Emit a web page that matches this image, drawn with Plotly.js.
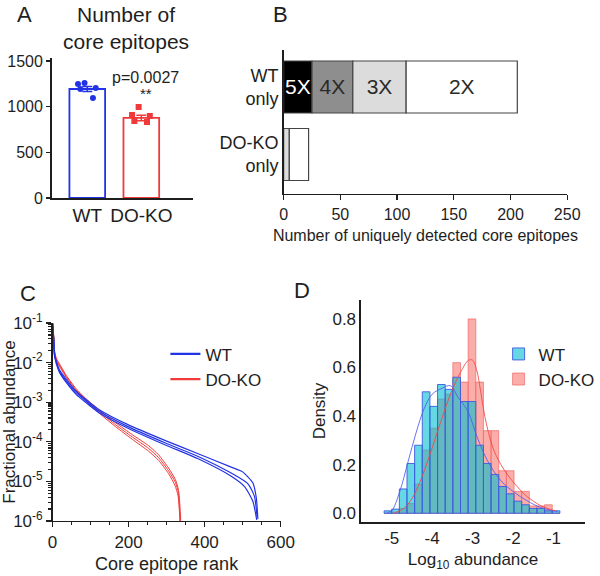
<!DOCTYPE html>
<html><head><meta charset="utf-8">
<script src="https://cdn.plot.ly/plotly-3.0.1.min.js"></script>
<style>html,body{margin:0;padding:0;background:#fff}#chart{width:600px;height:576px}</style>
</head><body><div id="chart"></div>
<script>
// ---------- Panel A: number of core epitopes ----------
const groupsA = ['WT', 'DO-KO'];
const groupPosA = [0, 1];
const meanA = [1193, 876];
const semA = [28, 30];
const pointsWT = [1259, 1248, 1204, 1193, 1095];
const pointsKO = [996, 909, 898, 843, 832];

// ---------- Panel B: uniquely detected core epitopes ----------
const groupsB = ['WT<br>only', 'DO-KO<br>only'];
const groupPosB = [1, 0];
const segLabels = ['5X', '4X', '3X', '2X'];
const segWT = [25, 36, 47, 98];
const segKO = [0, 0, 5, 17];

// ---------- Panel C: rank abundance curves ----------
const wtRank1 = [0, 3, 5, 10, 18, 36, 62, 88, 123, 197, 297, 383, 470, 500, 527, 536, 540];
const wtAbund1 = [0.1, 0.0417, 0.0174, 0.0107, 0.00661, 0.0038, 0.00191, 0.00117, 0.000646, 0.000275, 0.000107, 0.0000501, 0.0000229, 0.0000174, 0.00000912, 0.0000038, 0.00000112];
const wtRank2 = [0, 3, 5, 10, 18, 36, 62, 88, 123, 197, 297, 383, 470, 514, 531, 538];
const wtAbund2 = [0.1, 0.0389, 0.0162, 0.0100, 0.00617, 0.00347, 0.00174, 0.00107, 0.000589, 0.000245, 0.0000933, 0.0000427, 0.0000162, 0.0000087, 0.0000042, 0.00000126];
const wtRank3 = [0, 3, 5, 10, 18, 36, 62, 88, 123, 197, 297, 383, 470, 505, 527, 537];
const wtAbund3 = [0.1, 0.0363, 0.0151, 0.00933, 0.00575, 0.00316, 0.00158, 0.000977, 0.000537, 0.000224, 0.0000832, 0.0000372, 0.0000135, 0.0000074, 0.0000031, 0.00000107];
const koRank1 = [0, 3, 5, 10, 23, 36, 62, 88, 123, 166, 210, 253, 279, 305, 323, 331, 335, 337];
const koAbund1 = [0.1, 0.0501, 0.0209, 0.0129, 0.00776, 0.00479, 0.00219, 0.00123, 0.000631, 0.000302, 0.000151, 0.0000794, 0.0000468, 0.0000219, 0.0000112, 0.0000063, 0.0000025, 0.000001];
const koRank2 = [0, 3, 5, 10, 23, 36, 62, 88, 123, 166, 210, 253, 279, 305, 323, 331, 334, 336];
const koAbund2 = [0.1, 0.0468, 0.0195, 0.0120, 0.00724, 0.00447, 0.00204, 0.00115, 0.000575, 0.000269, 0.000132, 0.0000676, 0.0000398, 0.0000186, 0.0000095, 0.0000052, 0.000002, 0.000001];
const koRank3 = [0, 3, 5, 10, 23, 36, 62, 88, 123, 166, 210, 253, 279, 305, 322, 330, 334, 335];
const koAbund3 = [0.1, 0.0437, 0.0182, 0.0112, 0.00676, 0.00417, 0.00191, 0.00107, 0.000525, 0.00024, 0.000115, 0.0000575, 0.0000339, 0.0000158, 0.0000079, 0.0000044, 0.0000016, 0.000001];
const cTickVals = [1e-6, 1e-5, 1e-4, 1e-3, 1e-2, 1e-1];
const cTickText = ['10<sup>-6</sup>', '10<sup>-5</sup>', '10<sup>-4</sup>', '10<sup>-3</sup>', '10<sup>-2</sup>', '10<sup>-1</sup>'];

// ---------- Panel D: histogram of log10 abundance ----------
const binCenters = [-5.095, -4.906, -4.717, -4.528, -4.339, -4.150, -3.961, -3.772, -3.583, -3.394, -3.205, -3.016, -2.827, -2.638, -2.449, -2.260, -2.071, -1.882, -1.693, -1.504, -1.315, -1.126, -0.937];
const densWT = [0.01, 0.017, 0.10, 0.205, 0.28, 0.50, 0.44, 0.53, 0.51, 0.56, 0.46, 0.46, 0.28, 0.205, 0.16, 0.11, 0.08, 0.05, 0.035, 0.02, 0.02, 0.01, 0.01];
const densKO = [0, 0.005, 0.02, 0.04, 0.12, 0.26, 0.35, 0.47, 0.49, 0.62, 0.54, 0.80, 0.54, 0.34, 0.34, 0.175, 0.175, 0.09, 0.09, 0.03, 0.03, 0.035, 0];
const kdeWTx = [-5.1, -5.0, -4.8, -4.6, -4.4, -4.2, -4.0, -3.75, -3.55, -3.37, -3.12, -2.88, -2.63, -2.30, -1.97, -1.65, -1.32, -0.99, -0.9];
const kdeWTy = [0.003, 0.01, 0.09, 0.21, 0.33, 0.43, 0.49, 0.515, 0.525, 0.48, 0.42, 0.31, 0.216, 0.134, 0.086, 0.051, 0.024, 0.01, 0.007];
const kdeKOx = [-4.95, -4.7, -4.5, -4.3, -4.1, -3.9, -3.7, -3.5, -3.3, -3.1, -3.0, -2.9, -2.8, -2.7, -2.5, -2.3, -2.1, -1.9, -1.7, -1.5, -1.3, -1.1, -0.95];
const kdeKOy = [0.0, 0.02, 0.06, 0.13, 0.22, 0.32, 0.42, 0.51, 0.58, 0.63, 0.63, 0.59, 0.50, 0.40, 0.27, 0.20, 0.15, 0.11, 0.075, 0.05, 0.03, 0.017, 0.01];
const dTickVals = [-5, -4, -3, -2, -1];
const dTickText = ['-5', '-4', '-3', '-2', '-1'];

// ---------- styles ----------
const F = 'Liberation Sans, Arial, sans-serif';
const TXT = '#1e1e1e';
const BLUE = '#2233e6';
const RED = '#f03a3a';
const segColors = ['#000000', '#8e8e8e', '#dcdcdc', '#ffffff'];
const segTextColors = ['#ffffff', '#2a2a2a', '#2a2a2a', '#2a2a2a'];

const traces = [];

// Panel A bars + points
[BLUE, RED].forEach((col, i) => {
  traces.push({
    type: 'bar', x: [groupPosA[i]], y: [meanA[i]], width: 0.66,
    marker: {color: 'rgba(255,255,255,0)', line: {color: col, width: 1.8}},
    error_y: {type: 'data', array: [semA[i]], color: col, thickness: 1.5, width: 5},
    xaxis: 'x', yaxis: 'y', showlegend: false, hoverinfo: 'skip'
  });
});
[[pointsWT, BLUE, 'circle'], [pointsKO, RED, 'square']].forEach(([pts, col, sym], i) => {
  traces.push({
    type: 'box', x0: groupPosA[i], y: pts, boxpoints: 'all', jitter: 0.9, pointpos: 0, width: 0.45,
    fillcolor: 'rgba(0,0,0,0)', line: {width: 0, color: 'rgba(0,0,0,0)'},
    marker: {color: col, size: 6, symbol: sym},
    xaxis: 'x', yaxis: 'y', showlegend: false, hoverinfo: 'skip'
  });
});

// Panel B stacked horizontal bars (explicit base); WT carries the segment labels
let baseWT = 0, baseKO = 0;
segLabels.forEach((lab, i) => {
  traces.push({
    type: 'bar', orientation: 'h', y: [groupPosB[0]], x: [segWT[i]], base: [baseWT], width: 0.77,
    marker: {color: segColors[i], line: {color: '#444', width: 1.2}},
    text: [lab], textposition: 'inside', insidetextanchor: 'middle', constraintext: 'none',
    textangle: 0, textfont: {size: 21, color: segTextColors[i], family: F},
    xaxis: 'x2', yaxis: 'y2', showlegend: false, hoverinfo: 'skip'
  });
  if (segKO[i] > 0) {
    traces.push({
      type: 'bar', orientation: 'h', y: [groupPosB[1]], x: [segKO[i]], base: [baseKO], width: 0.77,
      marker: {color: segColors[i], line: {color: '#444', width: 1.2}},
      xaxis: 'x2', yaxis: 'y2', showlegend: false, hoverinfo: 'skip'
    });
  }
  baseWT += segWT[i]; baseKO += segKO[i];
});

// Panel C curves
[[koRank1, koAbund1], [koRank2, koAbund2], [koRank3, koAbund3]].forEach(([r, a]) => {
  traces.push({type: 'scatter', mode: 'lines', x: r, y: a, line: {color: RED, width: 1, shape: 'spline', smoothing: 0.6},
    xaxis: 'x3', yaxis: 'y3', showlegend: false, hoverinfo: 'skip'});
});
[[wtRank1, wtAbund1], [wtRank2, wtAbund2], [wtRank3, wtAbund3]].forEach(([r, a]) => {
  traces.push({type: 'scatter', mode: 'lines', x: r, y: a, line: {color: BLUE, width: 1.2, shape: 'spline', smoothing: 0.6},
    xaxis: 'x3', yaxis: 'y3', showlegend: false, hoverinfo: 'skip'});
});
traces.push({type: 'scatter', mode: 'lines', x: [null], y: [null], name: 'WT', line: {color: BLUE, width: 2.2},
  xaxis: 'x3', yaxis: 'y3', legend: 'legend', legendrank: 1});
traces.push({type: 'scatter', mode: 'lines', x: [null], y: [null], name: 'DO-KO', line: {color: RED, width: 2.2},
  xaxis: 'x3', yaxis: 'y3', legend: 'legend', legendrank: 2});

// Panel D histograms + KDE
traces.push({type: 'bar', x: binCenters, y: densKO, width: 0.189, name: 'DO-KO',
  marker: {color: 'rgba(248,120,112,0.6)', line: {color: 'rgba(240,110,110,0.75)', width: 1}},
  xaxis: 'x4', yaxis: 'y4', legend: 'legend2', legendrank: 2, hoverinfo: 'skip'});
traces.push({type: 'bar', x: binCenters, y: densWT, width: 0.189, name: 'WT',
  marker: {color: 'rgba(0,190,208,0.6)', line: {color: 'rgba(60,90,225,0.9)', width: 1}},
  xaxis: 'x4', yaxis: 'y4', legend: 'legend2', legendrank: 1, hoverinfo: 'skip'});
traces.push({type: 'scatter', mode: 'lines', x: kdeWTx, y: kdeWTy, line: {color: 'rgba(80,90,235,0.85)', width: 1, shape: 'spline'},
  xaxis: 'x4', yaxis: 'y4', showlegend: false, hoverinfo: 'skip'});
traces.push({type: 'scatter', mode: 'lines', x: kdeKOx, y: kdeKOy, line: {color: 'rgba(240,70,70,0.85)', width: 1, shape: 'spline'},
  xaxis: 'x4', yaxis: 'y4', showlegend: false, hoverinfo: 'skip'});

const axBase = {showline: true, linecolor: TXT, linewidth: 1.5, zeroline: false, showgrid: false,
  tickcolor: TXT, tickfont: {family: F, size: 17, color: TXT}, fixedrange: true};

function ann(text, px, py, size) {
  return {text: text, x: px / 600, y: 1 - py / 576, xref: 'paper', yref: 'paper', xanchor: 'center', yanchor: 'middle',
    showarrow: false, font: {family: F, size: size, color: TXT}};
}

const layout = {
  width: 600, height: 576, margin: {l: 0, r: 0, t: 0, b: 0},
  paper_bgcolor: '#fff', plot_bgcolor: 'rgba(0,0,0,0)',
  font: {family: F, color: TXT, size: 17},
  barmode: 'overlay', bargap: 0, showlegend: true, hovermode: false,
  xaxis: Object.assign({}, axBase, {domain: [0.0867, 0.325], range: [-0.66, 1.963], anchor: 'y',
    tickmode: 'array', tickvals: groupPosA, ticktext: groupsA, ticks: '', tickfont: {family: F, size: 19, color: TXT}}),
  yaxis: Object.assign({}, axBase, {domain: [0.65625, 0.8993], range: [0, 1532], anchor: 'x',
    tickmode: 'array', tickvals: [0, 500, 1000, 1500], ticks: 'outside', ticklen: 4, tickwidth: 1.2,
    tickfont: {family: F, size: 16, color: TXT}}),
  xaxis2: Object.assign({}, axBase, {domain: [0.4767, 0.9533], range: [0, 250], anchor: 'y2',
    tickmode: 'array', tickvals: [0, 50, 100, 150, 200, 250], ticks: 'outside', ticklen: 5, tickwidth: 1.2,
    tickfont: {family: F, size: 16, color: TXT},
    title: {text: 'Number of uniquely detected core epitopes', font: {family: F, size: 16, color: TXT}, standoff: 8}}),
  yaxis2: Object.assign({}, axBase, {domain: [0.6632, 0.9132], range: [-0.585, 1.548], anchor: 'x2',
    tickmode: 'array', tickvals: groupPosB, ticktext: groupsB, ticks: '', tickfont: {family: F, size: 18, color: TXT}}),
  xaxis3: Object.assign({}, axBase, {domain: [0.0883, 0.4717], range: [0, 600], anchor: 'y3',
    tickmode: 'array', tickvals: [0, 200, 400, 600], ticks: 'outside', ticklen: 5, tickwidth: 1.2,
    minor: {tickmode: 'linear', tick0: 0, dtick: 50, ticks: 'outside', ticklen: 3, tickcolor: TXT, showgrid: false},
    title: {text: 'Core epitope rank', font: {family: F, size: 18, color: TXT}, standoff: 6}}),
  yaxis3: Object.assign({}, axBase, {type: 'log', domain: [0.0955, 0.4392], range: [-6, -1], anchor: 'x3',
    tickmode: 'array', tickvals: cTickVals, ticktext: cTickText, ticks: 'outside', ticklen: 5, tickwidth: 1.2,
    ticklabelstandoff: 0,
    minor: {dtick: 'D1', ticks: 'outside', ticklen: 3, tickcolor: TXT, showgrid: false},
    title: {text: 'Fractional abundance', font: {family: F, size: 17, color: TXT}, standoff: 0}}),
  xaxis4: Object.assign({}, axBase, {domain: [0.6067, 0.9833], range: [-5.76, -0.22], anchor: 'y4',
    tickmode: 'array', tickvals: dTickVals, ticktext: dTickText, ticks: '',
    title: {text: 'Log<sub>10</sub> abundance', font: {family: F, size: 17, color: TXT}, standoff: 6}}),
  yaxis4: Object.assign({}, axBase, {domain: [0.09375, 0.4792], range: [-0.036, 0.878], anchor: 'x4',
    tickmode: 'array', tickvals: [0, 0.2, 0.4, 0.6, 0.8], ticktext: ['0.0', '0.2', '0.4', '0.6', '0.8'], ticks: '',
    title: {text: 'Density', font: {family: F, size: 17, color: TXT}, standoff: 2}}),
  legend: {x: 0.278, y: 0.416, xanchor: 'left', yanchor: 'top', bgcolor: 'rgba(0,0,0,0)',
    font: {family: F, size: 17, color: TXT}, itemwidth: 30, tracegroupgap: 0},
  legend2: {x: 0.838, y: 0.416, xanchor: 'left', yanchor: 'top', bgcolor: 'rgba(0,0,0,0)',
    font: {family: F, size: 17, color: TXT}, tracegroupgap: 0},
  annotations: [
    ann('A', 25, 15, 22),
    ann('B', 283, 15, 22),
    ann('C', 28, 293, 22),
    ann('D', 305, 290, 22),
    ann('Number of<br>core epitopes', 127, 27.5, 21),
    ann('p=0.0027', 147, 78, 16),
    ann('**', 147, 94, 15)
  ]
};

Plotly.newPlot('chart', traces, layout, {displayModeBar: false, staticPlot: true});
</script>
</body></html>
